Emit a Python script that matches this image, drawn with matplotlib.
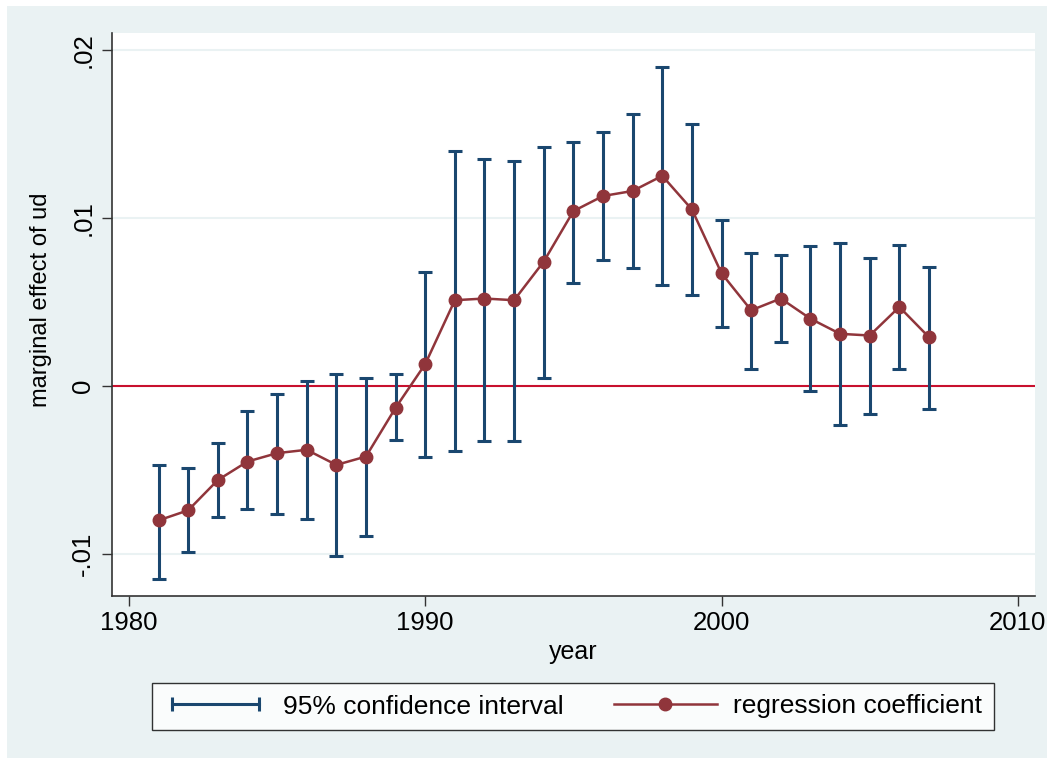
import matplotlib
matplotlib.use('Agg')
import matplotlib.pyplot as plt
from matplotlib.lines import Line2D
from matplotlib.legend_handler import HandlerLine2D
from matplotlib.patches import Rectangle

plt.rcParams['font.family'] = ['Liberation Sans', 'DejaVu Sans']

years = list(range(1981, 2008))
coef = [-0.0080, -0.0074, -0.0056, -0.0045, -0.0040, -0.0038, -0.0047, -0.0042, -0.0013,
        0.0013, 0.0051, 0.0052, 0.0051, 0.0074, 0.0104, 0.0113, 0.0116, 0.0125, 0.0105,
        0.0067, 0.0045, 0.0052, 0.0040, 0.0031, 0.0030, 0.0047, 0.0029]
ci_upper = [-0.0047, -0.0049, -0.0034, -0.0015, -0.0005, 0.0003, 0.0007, 0.0005, 0.0007,
            0.0068, 0.0140, 0.0135, 0.0134, 0.0142, 0.0145, 0.0151, 0.0162, 0.0190, 0.0156,
            0.0099, 0.0079, 0.0078, 0.0083, 0.0085, 0.0076, 0.0084, 0.0071]
ci_lower = [-0.0115, -0.0099, -0.0078, -0.0073, -0.0076, -0.0079, -0.0101, -0.0089, -0.0032,
            -0.0042, -0.0039, -0.0033, -0.0033, 0.0005, 0.0061, 0.0075, 0.0070, 0.0060, 0.0054,
            0.0035, 0.0010, 0.0026, -0.0003, -0.0023, -0.0017, 0.0010, -0.0014]

xticks = [1980, 1990, 2000, 2010]
yticks = [-0.01, 0, 0.01, 0.02]
ytick_labels = ['-.01', '0', '.01', '.02']

navy = '#1a476f'
maroon = '#90353b'
bg = '#eaf2f3'

fig = plt.figure(figsize=(10.54, 7.65), dpi=100)
fig.patch.set_facecolor('white')
fig.patches.append(Rectangle((7 / 1054, 7 / 765), 1040 / 1054, 752 / 765,
                             transform=fig.transFigure, facecolor=bg, edgecolor='none', zorder=-1))

ax = fig.add_axes([0.1063, 0.2209, 0.8757, 0.7360])
ax.set_facecolor('white')

for y in [-0.01, 0.01, 0.02]:
    ax.axhline(y, color=bg, linewidth=1.5, zorder=0)
ax.axhline(0, color='#c8102e', linewidth=1.5, zorder=1)

yerr = [[c - lo for c, lo in zip(coef, ci_lower)], [hi - c for c, hi in zip(coef, ci_upper)]]
ax.errorbar(years, coef, yerr=yerr, fmt='none', ecolor=navy, elinewidth=2.2,
            capsize=5, capthick=2.2, zorder=2)
ax.plot(years, coef, color=maroon, linewidth=1.8, marker='o', markersize=9, zorder=3)

ax.set_xlim(1979.43, 2010.58)
ax.set_ylim(-0.0125, 0.0210)
ax.set_xticks(xticks)
ax.set_yticks(yticks)
ax.set_yticklabels(ytick_labels, rotation=90, va='center')
ax.tick_params(axis='both', labelsize=18.5, length=7, width=1, color='#333333', direction='out')
ax.tick_params(axis='y', pad=5)

for s in ['top', 'right']:
    ax.spines[s].set_visible(False)
for s in ['left', 'bottom']:
    ax.spines[s].set_color('#333333')
    ax.spines[s].set_linewidth(1.2)

ax.set_xlabel('year', fontsize=18, labelpad=4)
ax.set_ylabel('marginal effect of ud', fontsize=17)
ax.yaxis.set_label_coords(-0.065, 0.526)

h_ci = Line2D([], [], color=navy, linewidth=2.2, marker='|', markersize=10, markeredgewidth=2.2)
h_coef = Line2D([], [], color=maroon, linewidth=1.8, marker='o', markersize=9)
leg = fig.legend([h_ci, h_coef], ['95% confidence interval', 'regression coefficient'],
                 loc='center', bbox_to_anchor=(573 / 1054, 1 - 706.5 / 765), ncol=2,
                 fontsize=19, frameon=True, fancybox=False, edgecolor='black',
                 handlelength=3.9, handletextpad=0.6, columnspacing=1.9, borderpad=0.45,
                 handler_map={h_ci: HandlerLine2D(numpoints=2), h_coef: HandlerLine2D(numpoints=1)})
leg.get_frame().set_linewidth(1.0)

fig.savefig('out.png', dpi=100, facecolor=fig.get_facecolor())
